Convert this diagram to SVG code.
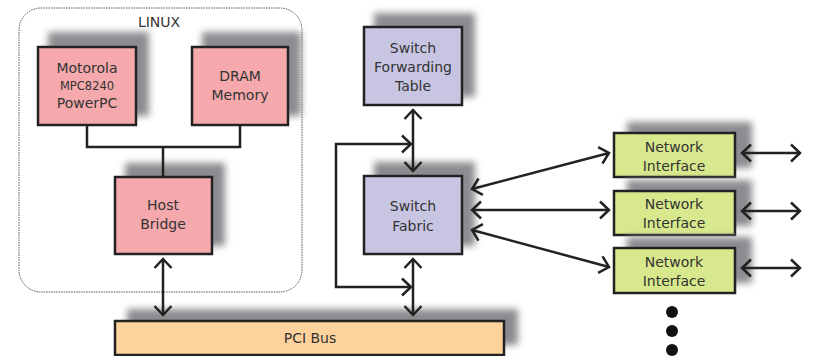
<svg xmlns="http://www.w3.org/2000/svg" width="821" height="356" viewBox="0 0 821 356">
  <style>
    .box { stroke: #222; stroke-width: 2.5; }
    .pink { fill: #f5a9ac; }
    .lav { fill: #c8c5e3; }
    .green { fill: #d8e88c; }
    .orange { fill: #fdd29c; }
    .shadow { fill: #8c8c90; filter: url(#soft); }
    .lbl { font-family: "DejaVu Sans", "Liberation Sans", sans-serif; font-size: 14px; fill: #333; text-anchor: middle; }
    .small { font-size: 11.5px; }
    .wire { fill: none; stroke: #222; stroke-width: 2.5; }
    .arrow { fill: none; stroke: #222; stroke-width: 2.5; marker-start: url(#chev); marker-end: url(#chev); }
  </style>
  <defs>
    <filter id="soft" x="-25%" y="-25%" width="150%" height="150%">
      <feGaussianBlur stdDeviation="3.5"/>
    </filter>
    <marker id="chev" viewBox="-11 -10 13 20" refX="0" refY="0" markerWidth="13" markerHeight="20" markerUnits="userSpaceOnUse" orient="auto-start-reverse">
      <path d="M-9,-8.5 L0,0 L-9,8.5" fill="none" stroke="#222" stroke-width="2.5"/>
    </marker>
  </defs>

  <!-- LINUX domain outline -->
  <g id="linux">
    <rect x="19" y="8" width="283" height="284" rx="22" ry="22" fill="none" stroke="#555" stroke-width="1" stroke-dasharray="1.5 1"/>
    <text class="lbl" x="159" y="27" font-size="13">LINUX</text>
  </g>

  <g id="cpu">
    <rect class="shadow" x="48" y="32" width="101" height="84"/>
    <rect class="box pink" x="38" y="47" width="98" height="78"/>
    <text class="lbl" x="87" y="73">Motorola</text>
    <text class="lbl small" x="87" y="90">MPC8240</text>
    <text class="lbl" x="87" y="108">PowerPC</text>
  </g>

  <g id="dram">
    <rect class="shadow" x="202" y="32" width="99" height="84"/>
    <rect class="box pink" x="192" y="47" width="96" height="78"/>
    <text class="lbl" x="240" y="81">DRAM</text>
    <text class="lbl" x="240" y="100">Memory</text>
  </g>

  <g id="hostbridge">
    <rect class="shadow" x="125" y="163" width="100" height="83"/>
    <rect class="box pink" x="115" y="177" width="97" height="77"/>
    <text class="lbl" x="163" y="210">Host</text>
    <text class="lbl" x="163" y="229">Bridge</text>
  </g>

  <g id="fwdtable">
    <rect class="shadow" x="374" y="13" width="101" height="84"/>
    <rect class="box lav" x="364" y="27" width="98" height="78"/>
    <text class="lbl" x="413" y="53">Switch</text>
    <text class="lbl" x="413" y="72">Forwarding</text>
    <text class="lbl" x="413" y="91">Table</text>
  </g>

  <g id="fabric">
    <rect class="shadow" x="374" y="162" width="101" height="84"/>
    <rect class="box lav" x="364" y="176" width="98" height="78"/>
    <text class="lbl" x="413" y="211">Switch</text>
    <text class="lbl" x="413" y="231">Fabric</text>
  </g>

  <g id="pcibus">
    <rect class="shadow" x="127" y="309" width="391" height="36"/>
    <rect class="box orange" x="115" y="321" width="389" height="34"/>
    <text class="lbl" x="310" y="343">PCI Bus</text>
  </g>

  <g id="ni1">
    <rect class="shadow" x="627" y="122" width="125" height="46"/>
    <rect class="box green" x="614" y="133" width="121" height="44"/>
    <text class="lbl" x="674" y="152">Network</text>
    <text class="lbl" x="674" y="171">Interface</text>
  </g>

  <g id="ni2">
    <rect class="shadow" x="627" y="180" width="125" height="46"/>
    <rect class="box green" x="614" y="191" width="121" height="44"/>
    <text class="lbl" x="674" y="209">Network</text>
    <text class="lbl" x="674" y="228">Interface</text>
  </g>

  <g id="ni3">
    <rect class="shadow" x="627" y="237" width="125" height="46"/>
    <rect class="box green" x="614" y="248" width="121" height="45"/>
    <text class="lbl" x="674" y="267">Network</text>
    <text class="lbl" x="674" y="286">Interface</text>
  </g>

  <g id="more">
    <circle cx="672" cy="312" r="6" fill="#111"/>
    <circle cx="672" cy="331" r="6" fill="#111"/>
    <circle cx="672" cy="350" r="6" fill="#111"/>
  </g>

  <g id="connectors">
    <!-- local bus inside the host -->
    <path class="wire" d="M87,125 V147 H240 V125 M163,147 V177"/>
    <!-- host bridge to PCI -->
    <line class="arrow" x1="163" y1="259" x2="163" y2="315"/>
    <!-- forwarding table to fabric -->
    <line class="arrow" x1="413" y1="110" x2="413" y2="171"/>
    <!-- fabric to PCI -->
    <line class="arrow" x1="413" y1="259" x2="413" y2="315"/>
    <!-- side path joining both vertical links -->
    <path class="wire" d="M411,144 H336 V287 H411" marker-start="url(#chev)" marker-end="url(#chev)"/>
    <!-- fabric to network interfaces -->
    <line class="arrow" x1="472" y1="189" x2="609" y2="153"/>
    <line class="arrow" x1="472" y1="210" x2="609" y2="210"/>
    <line class="arrow" x1="472" y1="230" x2="609" y2="267"/>
    <!-- network interfaces to the outside -->
    <line class="arrow" x1="742" y1="153" x2="800" y2="153"/>
    <line class="arrow" x1="742" y1="211" x2="800" y2="211"/>
    <line class="arrow" x1="742" y1="268" x2="800" y2="268"/>
  </g>
</svg>
